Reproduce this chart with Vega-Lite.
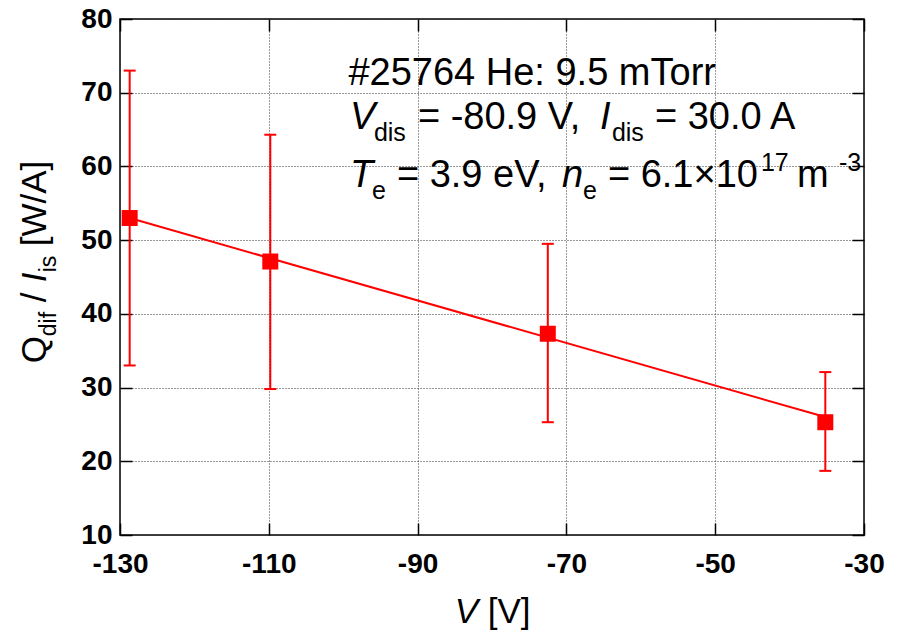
{
  "$schema": "https://vega.github.io/schema/vega-lite/v6.json",
  "width": 744,
  "height": 516,
  "autosize": {"type": "none"},
  "padding": {"left": 120, "top": 19, "right": 33, "bottom": 98},
  "background": "white",
  "config": {
    "view": {"stroke": "black", "strokeWidth": 1.5},
    "font": "Liberation Sans",
    "text": {"font": "Liberation Sans", "color": "black"}
  },
  "datasets": {
    "pts": [
      {"V": -128.7, "Q": 53.0, "lo": 33.0, "hi": 73.0},
      {"V": -109.8, "Q": 47.1, "lo": 29.8, "hi": 64.3},
      {"V": -72.5, "Q": 37.3, "lo": 25.3, "hi": 49.5},
      {"V": -35.2, "Q": 25.3, "lo": 18.7, "hi": 32.1}
    ],
    "fit": [
      {"V": -128.7, "Q": 53.0},
      {"V": -35.2, "Q": 26.0}
    ],
    "one": [{}]
  },
  "resolve": {"axis": {"x": "independent", "y": "independent"}},
  "layer": [
    {
      "data": {"name": "pts"},
      "mark": {"type": "rule", "color": "#ff0000", "strokeWidth": 2},
      "encoding": {
        "x": {"field": "V", "type": "quantitative",
          "scale": {"domain": [-130, -30], "nice": false, "zero": false},
          "axis": {"orient": "top", "values": [-130, -110, -90, -70, -50, -30], "labels": false, "title": null, "grid": false, "domain": false, "tickSize": -12, "tickColor": "black", "tickWidth": 1.5}},
        "y": {"field": "lo", "type": "quantitative",
          "scale": {"domain": [10, 80], "nice": false, "zero": false},
          "axis": {"orient": "right", "values": [10, 20, 30, 40, 50, 60, 70, 80], "labels": false, "title": null, "grid": false, "domain": false, "tickSize": -12, "tickColor": "black", "tickWidth": 1.5}},
        "y2": {"field": "hi"}
      }
    },
    {
      "data": {"name": "pts"},
      "mark": {"type": "tick", "orient": "horizontal", "color": "#ff0000", "size": 12, "thickness": 2, "opacity": 1},
      "encoding": {
        "x": {"field": "V", "type": "quantitative", "axis": null},
        "y": {"field": "lo", "type": "quantitative", "axis": null}
      }
    },
    {
      "data": {"name": "pts"},
      "mark": {"type": "tick", "orient": "horizontal", "color": "#ff0000", "size": 12, "thickness": 2, "opacity": 1},
      "encoding": {
        "x": {"field": "V", "type": "quantitative", "axis": null},
        "y": {"field": "hi", "type": "quantitative", "axis": null}
      }
    },
    {
      "data": {"name": "fit"},
      "mark": {"type": "line", "color": "#ff0000", "strokeWidth": 2},
      "encoding": {
        "x": {"field": "V", "type": "quantitative", "axis": null},
        "y": {"field": "Q", "type": "quantitative", "axis": null}
      }
    },
    {
      "data": {"name": "pts"},
      "mark": {"type": "point", "shape": "square", "filled": true, "color": "#ff0000", "size": 256, "opacity": 1},
      "encoding": {
        "x": {"field": "V", "type": "quantitative",
          "axis": {"orient": "bottom", "values": [-130, -110, -90, -70, -50, -30], "labelExpr": "'' + datum.value", "title": null, "labelFont": "Liberation Sans", "labelFontWeight": "bold", "labelFontSize": 28, "labelColor": "black", "labelPadding": 27, "labelFlush": false, "labelOverlap": false, "tickSize": -12, "tickColor": "black", "tickWidth": 1.5, "grid": true, "gridColor": "#333333", "gridDash": [1, 2], "gridWidth": 1, "domain": false}},
        "y": {"field": "Q", "type": "quantitative",
          "axis": {"orient": "left", "values": [10, 20, 30, 40, 50, 60, 70, 80], "labelExpr": "'' + datum.value", "title": null, "labelFont": "Liberation Sans", "labelFontWeight": "bold", "labelFontSize": 28, "labelColor": "black", "labelPadding": 20, "labelFlush": false, "labelOverlap": false, "tickSize": -12, "tickColor": "black", "tickWidth": 1.5, "grid": true, "gridColor": "#333333", "gridDash": [1, 2], "gridWidth": 1, "domain": false}}
      }
    },
    {"data": {"name": "one"}, "mark": {"type": "text", "text": "#25764 He: 9.5 mTorr", "fontSize": 38, "align": "left", "baseline": "alphabetic"},
     "encoding": {"x": {"datum": -99.3, "type": "quantitative", "axis": null}, "y": {"datum": 71.0, "type": "quantitative", "axis": null}}},

    {"data": {"name": "one"}, "mark": {"type": "text", "text": "V", "fontSize": 38, "fontStyle": "italic", "align": "left", "baseline": "alphabetic", "dx": 0},
     "encoding": {"x": {"datum": -99.1, "type": "quantitative", "axis": null}, "y": {"datum": 65.1, "type": "quantitative", "axis": null}}},
    {"data": {"name": "one"}, "mark": {"type": "text", "text": "dis", "fontSize": 25, "align": "left", "baseline": "alphabetic", "dx": 24, "dy": 12},
     "encoding": {"x": {"datum": -99.1, "type": "quantitative", "axis": null}, "y": {"datum": 65.1, "type": "quantitative", "axis": null}}},
    {"data": {"name": "one"}, "mark": {"type": "text", "text": "= -80.9 V,", "fontSize": 38, "align": "left", "baseline": "alphabetic", "dx": 68},
     "encoding": {"x": {"datum": -99.1, "type": "quantitative", "axis": null}, "y": {"datum": 65.1, "type": "quantitative", "axis": null}}},
    {"data": {"name": "one"}, "mark": {"type": "text", "text": "I", "fontSize": 38, "fontStyle": "italic", "align": "left", "baseline": "alphabetic", "dx": 250},
     "encoding": {"x": {"datum": -99.1, "type": "quantitative", "axis": null}, "y": {"datum": 65.1, "type": "quantitative", "axis": null}}},
    {"data": {"name": "one"}, "mark": {"type": "text", "text": "dis", "fontSize": 25, "align": "left", "baseline": "alphabetic", "dx": 262, "dy": 12},
     "encoding": {"x": {"datum": -99.1, "type": "quantitative", "axis": null}, "y": {"datum": 65.1, "type": "quantitative", "axis": null}}},
    {"data": {"name": "one"}, "mark": {"type": "text", "text": "= 30.0 A", "fontSize": 38, "align": "left", "baseline": "alphabetic", "dx": 305},
     "encoding": {"x": {"datum": -99.1, "type": "quantitative", "axis": null}, "y": {"datum": 65.1, "type": "quantitative", "axis": null}}},

    {"data": {"name": "one"}, "mark": {"type": "text", "text": "T", "fontSize": 38, "fontStyle": "italic", "align": "left", "baseline": "alphabetic", "dx": 0},
     "encoding": {"x": {"datum": -99.1, "type": "quantitative", "axis": null}, "y": {"datum": 57.2, "type": "quantitative", "axis": null}}},
    {"data": {"name": "one"}, "mark": {"type": "text", "text": "e", "fontSize": 25, "align": "left", "baseline": "alphabetic", "dx": 22, "dy": 12},
     "encoding": {"x": {"datum": -99.1, "type": "quantitative", "axis": null}, "y": {"datum": 57.2, "type": "quantitative", "axis": null}}},
    {"data": {"name": "one"}, "mark": {"type": "text", "text": "= 3.9 eV,", "fontSize": 38, "align": "left", "baseline": "alphabetic", "dx": 47},
     "encoding": {"x": {"datum": -99.1, "type": "quantitative", "axis": null}, "y": {"datum": 57.2, "type": "quantitative", "axis": null}}},
    {"data": {"name": "one"}, "mark": {"type": "text", "text": "n", "fontSize": 38, "fontStyle": "italic", "align": "left", "baseline": "alphabetic", "dx": 212},
     "encoding": {"x": {"datum": -99.1, "type": "quantitative", "axis": null}, "y": {"datum": 57.2, "type": "quantitative", "axis": null}}},
    {"data": {"name": "one"}, "mark": {"type": "text", "text": "e", "fontSize": 25, "align": "left", "baseline": "alphabetic", "dx": 233, "dy": 12},
     "encoding": {"x": {"datum": -99.1, "type": "quantitative", "axis": null}, "y": {"datum": 57.2, "type": "quantitative", "axis": null}}},
    {"data": {"name": "one"}, "mark": {"type": "text", "text": "= 6.1×10", "fontSize": 38, "align": "left", "baseline": "alphabetic", "dx": 258},
     "encoding": {"x": {"datum": -99.1, "type": "quantitative", "axis": null}, "y": {"datum": 57.2, "type": "quantitative", "axis": null}}},
    {"data": {"name": "one"}, "mark": {"type": "text", "text": "17", "fontSize": 25, "align": "left", "baseline": "alphabetic", "dx": 411, "dy": -16},
     "encoding": {"x": {"datum": -99.1, "type": "quantitative", "axis": null}, "y": {"datum": 57.2, "type": "quantitative", "axis": null}}},
    {"data": {"name": "one"}, "mark": {"type": "text", "text": "m", "fontSize": 38, "align": "left", "baseline": "alphabetic", "dx": 447},
     "encoding": {"x": {"datum": -99.1, "type": "quantitative", "axis": null}, "y": {"datum": 57.2, "type": "quantitative", "axis": null}}},
    {"data": {"name": "one"}, "mark": {"type": "text", "text": "-3", "fontSize": 25, "align": "left", "baseline": "alphabetic", "dx": 489, "dy": -16},
     "encoding": {"x": {"datum": -99.1, "type": "quantitative", "axis": null}, "y": {"datum": 57.2, "type": "quantitative", "axis": null}}},

    {"data": {"name": "one"}, "mark": {"type": "text", "text": "V", "fontSize": 35, "fontStyle": "italic", "align": "left", "baseline": "alphabetic", "dx": 0},
     "encoding": {"x": {"datum": -85.0, "type": "quantitative", "axis": null}, "y": {"datum": -1.9, "type": "quantitative", "axis": null}}},
    {"data": {"name": "one"}, "mark": {"type": "text", "text": "[V]", "fontSize": 35, "align": "left", "baseline": "alphabetic", "dx": 33},
     "encoding": {"x": {"datum": -85.0, "type": "quantitative", "axis": null}, "y": {"datum": -1.9, "type": "quantitative", "axis": null}}},

    {"data": {"name": "one"}, "mark": {"type": "text", "text": "Q", "fontSize": 35, "angle": 270, "align": "left", "baseline": "alphabetic", "dx": 0},
     "encoding": {"x": {"datum": -140.0, "type": "quantitative", "axis": null}, "y": {"datum": 33.3, "type": "quantitative", "axis": null}}},
    {"data": {"name": "one"}, "mark": {"type": "text", "text": "dif", "fontSize": 23, "angle": 270, "align": "left", "baseline": "alphabetic", "dx": 27, "dy": 10},
     "encoding": {"x": {"datum": -140.0, "type": "quantitative", "axis": null}, "y": {"datum": 33.3, "type": "quantitative", "axis": null}}},
    {"data": {"name": "one"}, "mark": {"type": "text", "text": "/", "fontSize": 35, "angle": 270, "align": "left", "baseline": "alphabetic", "dx": 61},
     "encoding": {"x": {"datum": -140.0, "type": "quantitative", "axis": null}, "y": {"datum": 33.3, "type": "quantitative", "axis": null}}},
    {"data": {"name": "one"}, "mark": {"type": "text", "text": "I", "fontSize": 35, "fontStyle": "italic", "angle": 270, "align": "left", "baseline": "alphabetic", "dx": 81},
     "encoding": {"x": {"datum": -140.0, "type": "quantitative", "axis": null}, "y": {"datum": 33.3, "type": "quantitative", "axis": null}}},
    {"data": {"name": "one"}, "mark": {"type": "text", "text": "is", "fontSize": 23, "angle": 270, "align": "left", "baseline": "alphabetic", "dx": 91, "dy": 10},
     "encoding": {"x": {"datum": -140.0, "type": "quantitative", "axis": null}, "y": {"datum": 33.3, "type": "quantitative", "axis": null}}},
    {"data": {"name": "one"}, "mark": {"type": "text", "text": "[W/A]", "fontSize": 35, "angle": 270, "align": "left", "baseline": "alphabetic", "dx": 117},
     "encoding": {"x": {"datum": -140.0, "type": "quantitative", "axis": null}, "y": {"datum": 33.3, "type": "quantitative", "axis": null}}}
  ]
}
